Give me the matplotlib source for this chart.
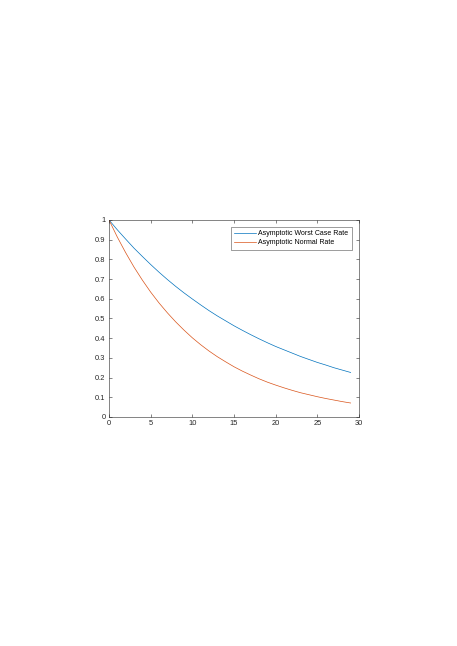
import matplotlib
matplotlib.use("Agg")
import matplotlib.pyplot as plt

plt.rcParams["font.family"] = ["Liberation Sans", "DejaVu Sans"]

iterations = list(range(30))
worst_case = [1.000, 0.950, 0.903, 0.857, 0.815, 0.774, 0.735, 0.698, 0.663, 0.630,
              0.599, 0.569, 0.540, 0.513, 0.488, 0.463, 0.440, 0.418, 0.397, 0.377,
              0.358, 0.341, 0.324, 0.307, 0.292, 0.277, 0.264, 0.250, 0.238, 0.226]
normal = [1.000, 0.913, 0.834, 0.761, 0.695, 0.634, 0.579, 0.529, 0.483, 0.441,
          0.402, 0.367, 0.335, 0.306, 0.280, 0.255, 0.233, 0.213, 0.194, 0.177,
          0.162, 0.148, 0.135, 0.123, 0.113, 0.103, 0.094, 0.086, 0.078, 0.071]
labels = ["Asymptotic Worst Case Rate", "Asymptotic Normal Rate"]
x_ticks = [0, 5, 10, 15, 20, 25, 30]
y_ticks = [0, 0.1, 0.2, 0.3, 0.4, 0.5, 0.6, 0.7, 0.8, 0.9, 1]
y_tick_labels = ["0", "0.1", "0.2", "0.3", "0.4", "0.5", "0.6", "0.7", "0.8", "0.9", "1"]

fig = plt.figure(figsize=(4.57, 6.46), dpi=100)
ax = fig.add_axes([0.2385, 0.3545, 0.547, 0.305])

ax.plot(iterations, worst_case, color="#0072BD", linewidth=0.5, label=labels[0])
ax.plot(iterations, normal, color="#D95319", linewidth=0.5, label=labels[1])

ax.set_xlim(0, 30)
ax.set_ylim(0, 1)
ax.set_xticks(x_ticks)
ax.set_yticks(y_ticks)
ax.set_yticklabels(y_tick_labels)

axis_color = "#262626"
for spine in ax.spines.values():
    spine.set_linewidth(0.4)
    spine.set_color(axis_color)
ax.tick_params(direction="in", length=2.5, width=0.4, top=True, right=True,
               labelsize=5.4, colors=axis_color, pad=2.5)

leg = ax.legend(loc="upper right", fontsize=5.0, frameon=True, fancybox=False,
                handlelength=3.2, borderpad=0.5, labelspacing=0.3,
                handletextpad=0.3, borderaxespad=1.0)
leg.get_frame().set_linewidth(0.4)
leg.get_frame().set_edgecolor(axis_color)

fig.savefig("out.png", dpi=100)
plt.close(fig)
